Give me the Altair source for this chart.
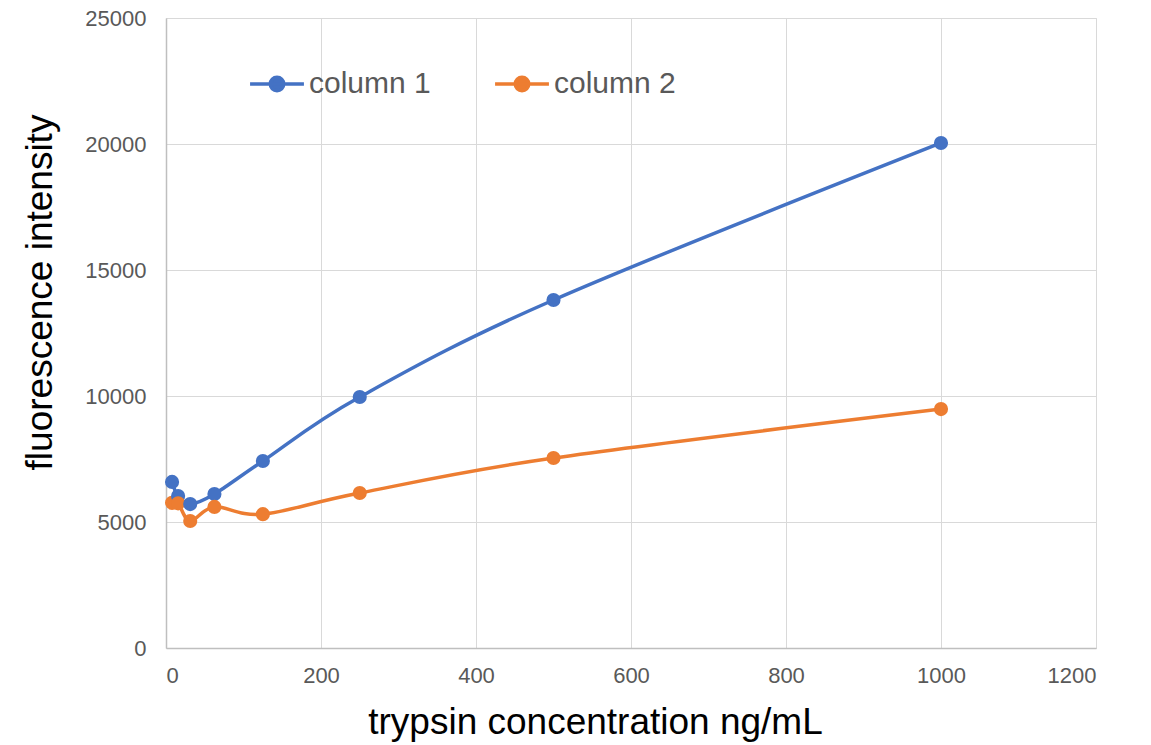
import altair as alt
import pandas as pd

conc = [7.8125, 15.625, 31.25, 62.5, 125, 250, 500, 1000]
column1 = [6590, 6030, 5710, 6110, 7420, 9960, 13810, 20040]
column2 = [5760, 5740, 5040, 5600, 5310, 6150, 7540, 9480]
series_names = ["column 1", "column 2"]
series_colors = ["#4472C4", "#ED7D31"]
x_ticks = [0, 200, 400, 600, 800, 1000, 1200]
y_ticks = [0, 5000, 10000, 15000, 20000, 25000]

rows = []
for i, c in enumerate(conc):
    rows.append({"conc": c, "value": column1[i], "series": series_names[0]})
    rows.append({"conc": c, "value": column2[i], "series": series_names[1]})
df = pd.DataFrame(rows)

FONT = "Liberation Sans"
legend_path = "M-1,0H1M0.25,0A0.25,0.25 0 1,1 -0.25,0A0.25,0.25 0 1,1 0.25,0Z"

x = alt.X("conc:Q", scale=alt.Scale(domain=[0, 1200], nice=False),
          axis=alt.Axis(values=x_ticks, title="trypsin concentration ng/mL", format="d",
                        grid=True, gridColor="#d9d9d9", gridWidth=1,
                        domainColor="#bfbfbf", domainWidth=1.5, ticks=False,
                        labelFont=FONT, labelFontSize=22, labelColor="#595959",
                        labelPadding=17, labelBaseline="top",
                        titleFont=FONT, titleFontSize=37, titleFontWeight="normal",
                        titleColor="#000000", titleX=429, titleY=74,
                        titleBaseline="middle", titleAnchor="middle"))
y = alt.Y("value:Q", scale=alt.Scale(domain=[0, 25000], nice=False),
          axis=alt.Axis(values=y_ticks, title="fluorescence intensity", format="d",
                        grid=True, gridColor="#d9d9d9", gridWidth=1,
                        domainColor="#bfbfbf", domainWidth=1.5, ticks=False,
                        labelFont=FONT, labelFontSize=22, labelColor="#595959",
                        labelPadding=20,
                        titleFont=FONT, titleFontSize=37, titleFontWeight="normal",
                        titleColor="#000000", titleX=-126, titleY=274,
                        titleAngle=270, titleAlign="center", titleBaseline="middle"))
color = alt.Color("series:N",
                  scale=alt.Scale(domain=series_names, range=series_colors),
                  legend=alt.Legend(title=None, orient="none", direction="horizontal",
                                    legendX=82, legendY=37,
                                    symbolType=legend_path, symbolSize=2900,
                                    symbolStrokeWidth=3.5, symbolFillColor="#ffffff",
                                    labelFont=FONT, labelFontSize=30, labelColor="#595959",
                                    labelOffset=3, columnPadding=57, labelLimit=300))

line = alt.Chart(df).mark_line(interpolate="cardinal", tension=0, strokeWidth=3.5).encode(
    x=x, y=y, color=color, order="conc:Q")
pts = alt.Chart(df).mark_point(filled=True, size=200, opacity=1).encode(
    x=x, y=y, color=alt.Color("series:N", scale=alt.Scale(domain=series_names, range=series_colors), legend=None))

chart = (line + pts).properties(
    width=930, height=630,
    autosize=alt.AutoSizeParams(type="none"),
    padding={"left": 166, "top": 18, "right": 55, "bottom": 97},
).configure_view(stroke=None).configure(background="#ffffff")

chart.save("out.html", embed_options={"renderer": "svg", "actions": False})
